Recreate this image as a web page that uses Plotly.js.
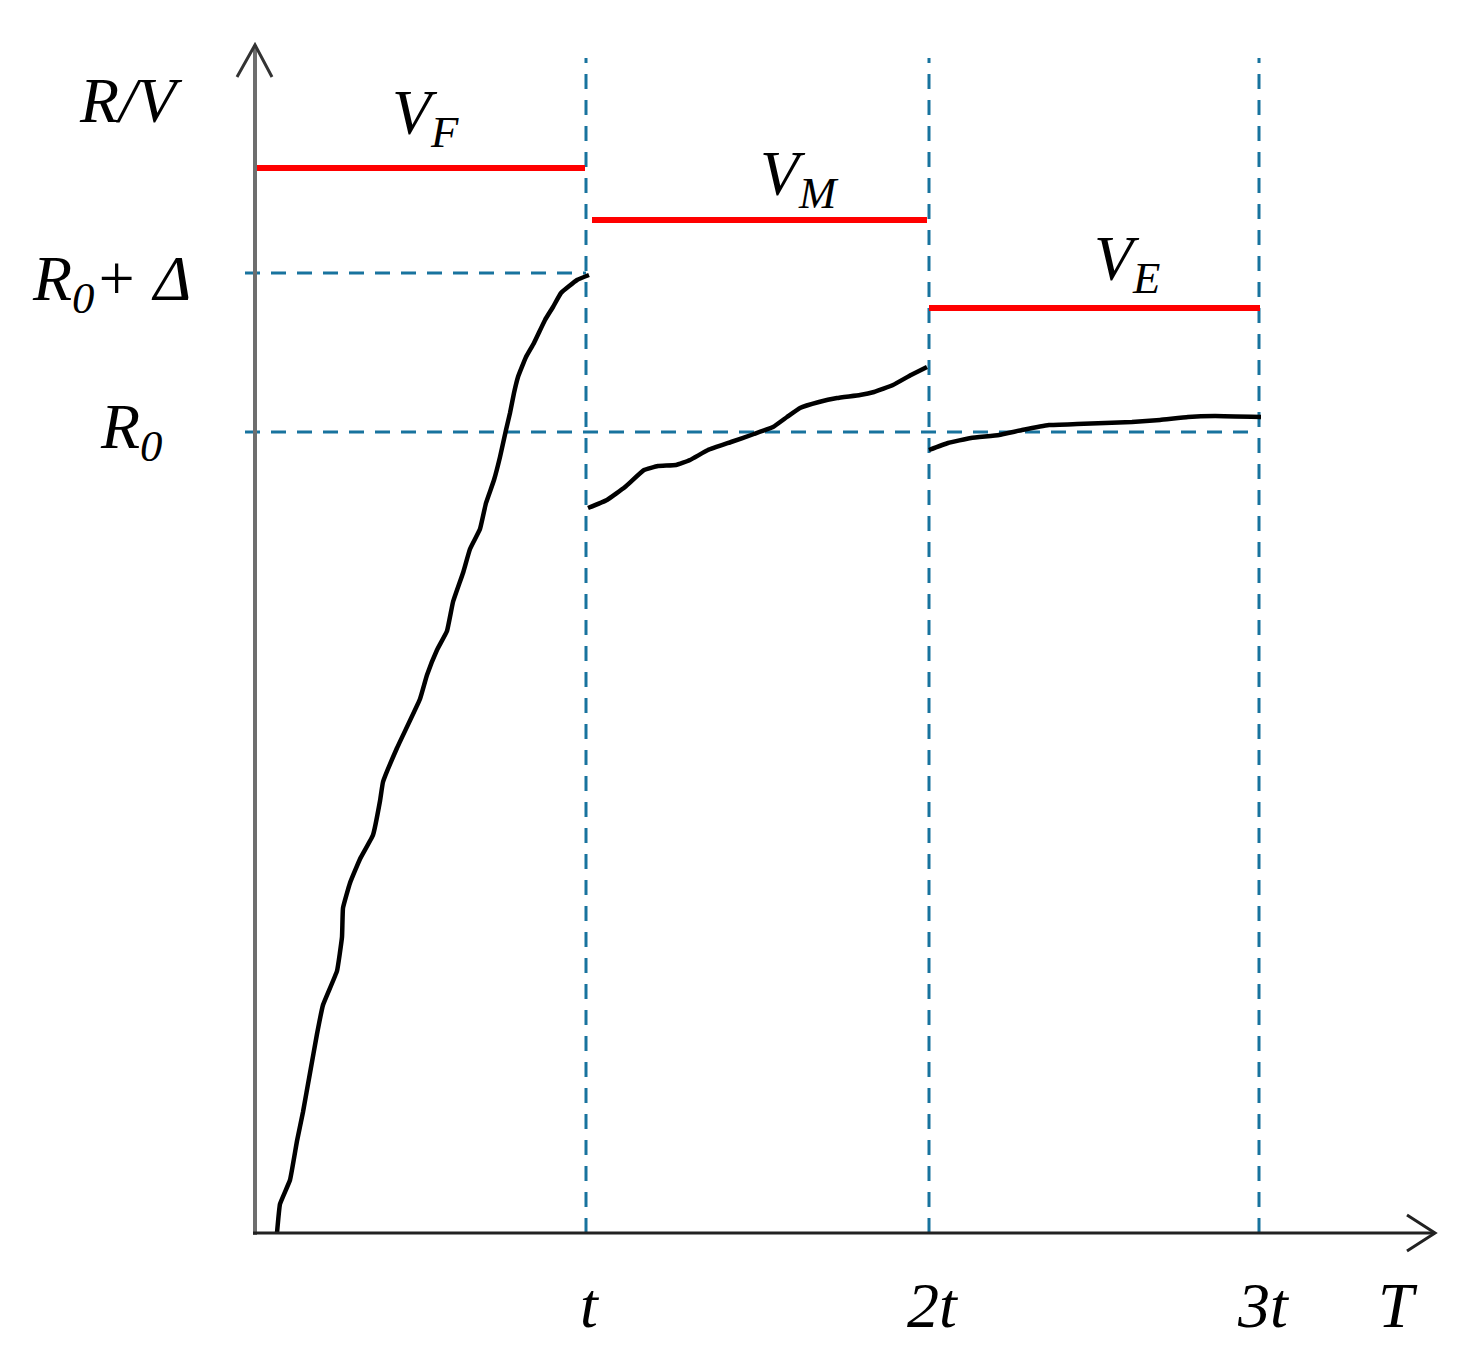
<!DOCTYPE html>
<html>
<head>
<meta charset="utf-8">
<script src="https://cdn.plot.ly/plotly-3.0.1.min.js"></script>
<style>
  html, body { margin: 0; padding: 0; background: #fff; }
  #chart { width: 1462px; height: 1360px; }
</style>
</head>
<body>
<div id="chart"></div>
<script>
// period boundaries t, 2t, 3t (time units, origin at the y axis)
const periodEnds = [331, 674, 1004];
const periodLabels = ['t', '2t', '3t'];

// reference levels
const r0 = 801;
const r0Delta = 960;

// V level in each period (red bars)
const vStart = [0, 337, 674];
const vEnd = [330, 672, 1005];
const vLevel = [1065, 1013, 925];
const vLabels = ['V<sub>F</sub>', 'V<sub>M</sub>', 'V<sub>E</sub>'];

// measured R curve, one array per period
const r1x = [22, 25, 35, 42, 48, 55, 62, 68, 82, 87, 88, 95, 105, 118, 125, 128, 142, 165, 172, 182, 192, 198, 208, 215, 225, 231, 239, 245, 251, 255, 259, 263, 271, 279, 290, 298, 306, 322, 334];
const r1y = [0, 29, 53, 92, 121, 160, 199, 228, 262, 296, 325, 350, 374, 398, 432, 451, 485, 534, 558, 583, 602, 631, 660, 684, 704, 730, 753, 776, 803, 820, 840, 856, 876, 890, 913, 926, 940, 953, 958];
const r2x = [333, 352, 370, 389, 403, 421, 435, 453, 476, 499, 518, 532, 545, 564, 582, 605, 619, 638, 656, 672];
const r2y = [725, 733, 746, 763, 767, 768, 773, 783, 791, 799, 806, 816, 825, 831, 835, 838, 841, 848, 858, 866];
const r3x = [674, 693, 716, 744, 767, 794, 822, 850, 877, 905, 933, 960, 1006];
const r3y = [783, 790, 795, 798, 803, 808, 809, 810, 811, 813, 816, 817, 816];

const xMax = 1180;   // end of T axis
const yMax = 1188;   // end of R/V axis
const dashTop = 1175;

const dashColor = '#18739e';
const dashStyle = { color: dashColor, width: 3, dash: '15px,11px' };
const serif = 'Liberation Serif';  // a list of families is not applied here

const traces = [];

// vertical dashed lines at t, 2t, 3t
periodEnds.forEach(x => {
  traces.push({ x: [x, x], y: [0, dashTop], mode: 'lines', line: dashStyle, hoverinfo: 'skip' });
});
// horizontal dashed lines at R0 + delta and R0
traces.push({ x: [-10, periodEnds[0]], y: [r0Delta, r0Delta], mode: 'lines', line: dashStyle, hoverinfo: 'skip' });
traces.push({ x: [-10, periodEnds[2]], y: [r0, r0], mode: 'lines', line: dashStyle, hoverinfo: 'skip' });

// red V levels
vLevel.forEach((v, i) => {
  traces.push({ x: [vStart[i], vEnd[i]], y: [v, v], mode: 'lines', line: { color: '#ff0000', width: 6 }, hoverinfo: 'skip' });
});

// black R curve
[[r1x, r1y], [r2x, r2y], [r3x, r3y]].forEach(([xs, ys]) => {
  traces.push({ x: xs, y: ys, mode: 'lines', line: { color: '#000', width: 4.5, shape: 'spline', smoothing: 0.3 }, hoverinfo: 'skip' });
});

const shapes = [
  // axes
  { type: 'line', x0: 0, x1: 0, y0: -2, y1: yMax, line: { color: '#6e6e6e', width: 4 } },
  { type: 'line', x0: -2, x1: xMax, y0: 0, y1: 0, line: { color: '#222', width: 3 } },
  // arrow heads
  { type: 'path', path: `M -18,${yMax - 32} L 0,${yMax} L 17,${yMax - 32}`, line: { color: '#333', width: 3 } },
  { type: 'path', path: `M ${xMax - 28},18 L ${xMax},0 L ${xMax - 28},-18`, line: { color: '#222', width: 3 } }
];

const label = (x, y, text, extra) => Object.assign({
  x: x, y: y, xref: 'x', yref: 'y', text: text, showarrow: false,
  font: { family: serif, size: 64, color: '#000', style: 'italic' }, xanchor: 'center', yanchor: 'middle'
}, extra || {});

const vLabelPos = [[170, 1116], [544, 1055], [872, 970]];

const annotations = [
  label(-124, 1133, 'R/V'),
  label(-62, 950, 'R<sub>0</sub>+ Δ', { xanchor: 'right' }),
  label(-124, 802, 'R<sub>0</sub>'),
  label(xMax - 37, -72, 'T')
];
vLabels.forEach((t, i) => annotations.push(label(vLabelPos[i][0], vLabelPos[i][1], t)));
periodEnds.forEach((x, i) => annotations.push(label(x + 4, -72, periodLabels[i])));

const layout = {
  width: 1462,
  height: 1360,
  margin: { l: 0, r: 0, t: 0, b: 0, pad: 0 },
  paper_bgcolor: '#fff',
  plot_bgcolor: '#fff',
  showlegend: false,
  xaxis: { range: [-255, 1207], visible: false, fixedrange: true },
  yaxis: { range: [-127, 1233], visible: false, fixedrange: true },
  shapes: shapes,
  annotations: annotations
};

Plotly.newPlot('chart', traces, layout, { displayModeBar: false, staticPlot: true });
</script>
</body>
</html>
